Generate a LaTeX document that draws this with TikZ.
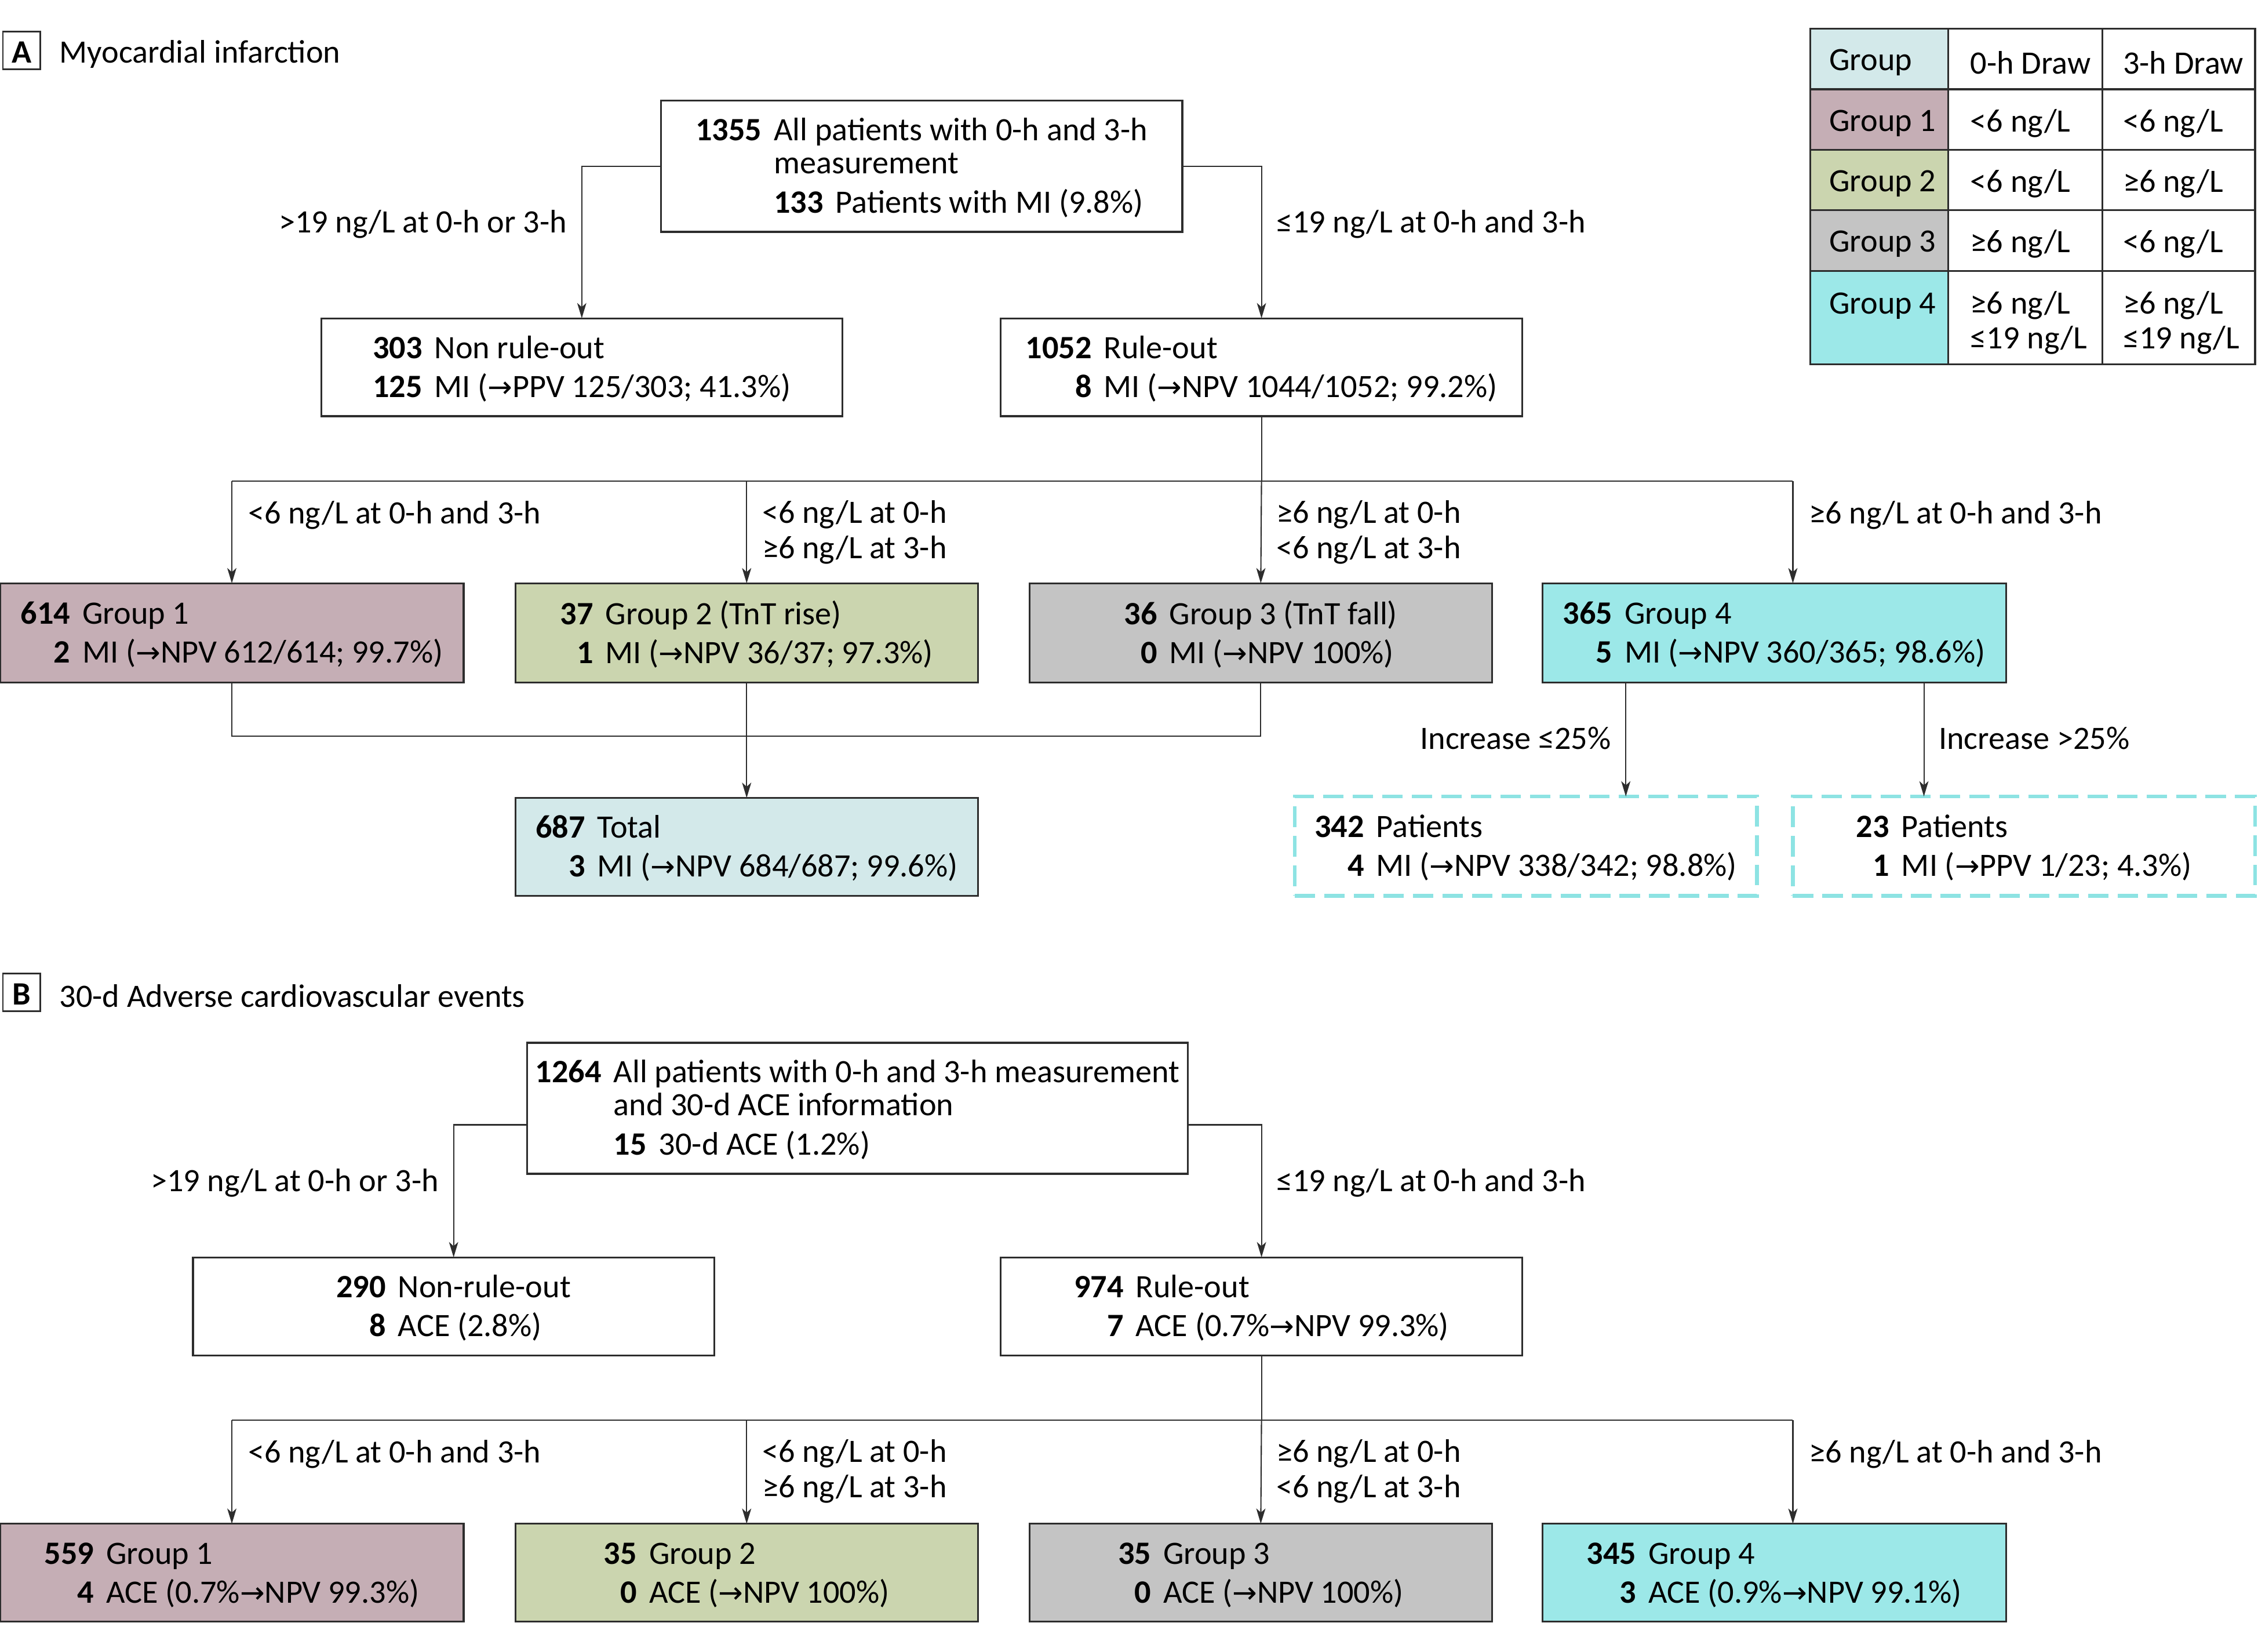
\documentclass[tikz,border=0pt]{standalone}
\usepackage{fontspec}
\setmainfont{Carlito}
\newfontfamily\symf{DejaVu Sans}
\usetikzlibrary{arrows.meta}
\newdimen\U \U=0.024847cm
\newcommand\myarr{{\symf\fontsize{14.5}{14.5}\selectfont →}}
\newcommand\bodyf{\fontsize{16}{16.2}\selectfont}
\newcommand\tb[1]{\raisebox{-2pt}[\height][\depth]{\begin{tabular}{@{}r@{\hspace{6pt}}l@{}}#1\end{tabular}}}
\definecolor{gone}{RGB}{197,174,181}
\definecolor{gtwo}{RGB}{203,213,175}
\definecolor{gthree}{RGB}{196,196,196}
\definecolor{gfour}{RGB}{156,232,232}
\definecolor{ltot}{RGB}{211,233,234}
\definecolor{dcy}{RGB}{141,227,227}
\definecolor{bord}{RGB}{45,45,45}
\tikzset{
  box/.style={draw=bord, line width=0.9pt, inner sep=0pt, outer sep=0pt, font=\bodyf, align=center},
  dbox/.style={draw=dcy, line width=1.8pt, dash pattern=on 10pt off 4.5pt, inner sep=0pt, outer sep=0pt, font=\bodyf},
  conn/.style={draw=bord, line width=0.6pt},
  arr/.style={conn, -{Stealth[length=7.5pt,width=4.5pt,inset=2pt]}},
  lbl/.style={inner sep=0pt, font=\bodyf, align=left, yshift=-1.8pt},
  cell/.style={draw=bord, line width=0.9pt, inner sep=0pt, outer sep=0pt},
  plab/.style={draw=bord, line width=0.8pt, minimum width=26*\U, minimum height=26*\U, inner sep=0pt, font=\bodyf\bfseries},
}
\begin{document}
\begin{tikzpicture}[x=0.024847cm, y=-0.024847cm]
\useasboundingbox (0,0) rectangle (1568,1147);
% ---------------- Panel A ----------------
\node[plab] (labA) at (15,35) {\raisebox{-1pt}[\height][\depth]{A}};
\node[lbl, anchor=west] (titA) at (41,35) {Myocardial infarction};

\node[box, minimum width=362*\U, minimum height=91*\U] (topA) at (640,115.5)
  {\tb{\textbf{1355} & All patients with 0-h and 3-h\\ & measurement\\[2.8pt] & \textbf{133}\hspace{6pt}Patients with MI (9.8\%)}};
\node[box, minimum width=362*\U, minimum height=68*\U] (nroA) at (404,255)
  {\tb{\textbf{303} & Non rule-out\\[2.5pt] \textbf{125} & MI (\myarr PPV 125/303; 41.3\%)}};
\node[box, minimum width=362*\U, minimum height=68*\U] (roA) at (876,255)
  {\tb{\textbf{1052} & Rule-out\\[2.5pt] \textbf{8} & MI (\myarr NPV 1044/1052; 99.2\%)}};

\node[box, fill=gone, minimum width=322*\U, minimum height=69*\U] (g1A) at (161,439.5)
  {\tb{\textbf{614} & Group 1\\[2.5pt] \textbf{2} & MI (\myarr NPV 612/614; 99.7\%)}};
\node[box, fill=gtwo, minimum width=321*\U, minimum height=69*\U] (g2A) at (518.5,439.5)
  {\tb{\textbf{37} & Group 2 (TnT rise)\\[2.5pt] \textbf{1} & MI (\myarr NPV 36/37; 97.3\%)}};
\node[box, fill=gthree, minimum width=321*\U, minimum height=69*\U] (g3A) at (875.5,439.5)
  {\tb{\textbf{36} & Group 3 (TnT fall)\\[2.5pt] \textbf{0} & MI (\myarr NPV 100\%)}};
\node[box, fill=gfour, minimum width=322*\U, minimum height=69*\U] (g4A) at (1232,439.5)
  {\tb{\textbf{365} & Group 4\\[2.5pt] \textbf{5} & MI (\myarr NPV 360/365; 98.6\%)}};

\node[box, fill=ltot, minimum width=321*\U, minimum height=68*\U] (totA) at (518.5,588)
  {\tb{\textbf{687} & Total\\[2.5pt] \textbf{3} & MI (\myarr NPV 684/687; 99.6\%)}};
\node[dbox, minimum width=321*\U, minimum height=69*\U] (p1A) at (1059.5,587.5)
  {\tb{\textbf{342} & Patients\\[2.5pt] \textbf{4} & MI (\myarr NPV 338/342; 98.8\%)}};
\node[dbox, minimum width=321*\U, minimum height=69*\U] (p2A) at (1405.5,587.5)
  {\tb{\textbf{23} & Patients\\[2.5pt] \textbf{1} & MI (\myarr PPV 1/23; 4.3\%)}};

\draw[arr] (topA.west) -| (nroA.north);
\draw[arr] (topA.east) -| (roA.north);
\node[lbl, anchor=east] (lA1) at (394,153) {>19 ng/L at 0-h or 3-h};
\node[lbl, anchor=west] (lA2) at (886,153) {≤19 ng/L at 0-h and 3-h};

\coordinate (bA) at (876,334);
\coordinate (bA1) at (161,334);
\coordinate (bA2) at (518.5,334);
\coordinate (bA4) at (1245,334);
\draw[conn] (roA.south) -- (bA);
\draw[conn] (bA1) -- (bA4);
\draw[arr] (bA1) -- (g1A.north);
\draw[arr] (bA2) -- (g2A.north);
\draw[arr] (bA) -- (g3A.north);
\draw[arr] (bA4) -- (bA4 |- g4A.north);
\node[lbl, anchor=west] (lA3) at (172,355) {<6 ng/L at 0-h and 3-h};
\node[lbl, anchor=west] (lA4) at (529,367) {<6 ng/L at 0-h\\[1pt]≥6 ng/L at 3-h};
\node[lbl, anchor=west] (lA5) at (886,367) {≥6 ng/L at 0-h\\[1pt]<6 ng/L at 3-h};
\node[lbl, anchor=west] (lA6) at (1256,355) {≥6 ng/L at 0-h and 3-h};

\coordinate (mA1) at (161,511);
\coordinate (mA3) at (875.5,511);
\draw[conn] (g1A.south) -- (mA1) -- (mA3) -- (g3A.south);
\draw[arr] (g2A.south) -- (totA.north);

\coordinate (sA1) at (1129,474);
\coordinate (sA2) at (1336,474);
\draw[arr] (sA1) -- (sA1 |- p1A.north);
\draw[arr] (sA2) -- (sA2 |- p2A.north);
\node[lbl, anchor=east] (lA7) at (1119,510) {Increase ≤25\%};
\node[lbl, anchor=west] (lA8) at (1346,510) {Increase >25\%};

% ---------------- Table ----------------
\node[cell, fill=ltot, minimum width=96*\U, minimum height=42*\U] (t11) at (1305,41) {};
\node[cell, minimum width=107*\U, minimum height=42*\U] (t12) at (1406.5,41) {};
\node[cell, minimum width=106*\U, minimum height=42*\U] (t13) at (1513,41) {};
\node[cell, fill=gone, minimum width=96*\U, minimum height=42*\U] (t21) at (1305,83) {};
\node[cell, minimum width=107*\U, minimum height=42*\U] (t22) at (1406.5,83) {};
\node[cell, minimum width=106*\U, minimum height=42*\U] (t23) at (1513,83) {};
\node[cell, fill=gtwo, minimum width=96*\U, minimum height=42*\U] (t31) at (1305,125) {};
\node[cell, minimum width=107*\U, minimum height=42*\U] (t32) at (1406.5,125) {};
\node[cell, minimum width=106*\U, minimum height=42*\U] (t33) at (1513,125) {};
\node[cell, fill=gthree, minimum width=96*\U, minimum height=42*\U] (t41) at (1305,167) {};
\node[cell, minimum width=107*\U, minimum height=42*\U] (t42) at (1406.5,167) {};
\node[cell, minimum width=106*\U, minimum height=42*\U] (t43) at (1513,167) {};
\node[cell, fill=gfour, minimum width=96*\U, minimum height=65*\U] (t51) at (1305,220.5) {};
\node[cell, minimum width=107*\U, minimum height=65*\U] (t52) at (1406.5,220.5) {};
\node[cell, minimum width=106*\U, minimum height=65*\U] (t53) at (1513,220.5) {};

\node[lbl, anchor=west] (x11) at (1270,41) {Group};
\node[lbl, anchor=west] (x12) at (1368,41) {0-h Draw};
\node[lbl, anchor=west] (x13) at (1474,41) {3-h Draw};
\node[lbl, anchor=west] (x21) at (1270,83) {Group 1};
\node[lbl, anchor=west] (x22) at (1368,83) {<6 ng/L};
\node[lbl, anchor=west] (x23) at (1474,83) {<6 ng/L};
\node[lbl, anchor=west] (x31) at (1270,125) {Group 2};
\node[lbl, anchor=west] (x32) at (1368,125) {<6 ng/L};
\node[lbl, anchor=west] (x33) at (1474,125) {≥6 ng/L};
\node[lbl, anchor=west] (x41) at (1270,167) {Group 3};
\node[lbl, anchor=west] (x42) at (1368,167) {≥6 ng/L};
\node[lbl, anchor=west] (x43) at (1474,167) {<6 ng/L};
\node[lbl, anchor=west] (x51) at (1270,210) {Group 4};
\node[lbl, anchor=west] (x52) at (1368,221.5) {≥6 ng/L\\[1pt]≤19 ng/L};
\node[lbl, anchor=west] (x53) at (1474,221.5) {≥6 ng/L\\[1pt]≤19 ng/L};

% ---------------- Panel B ----------------
\node[plab] (labB) at (15,689) {\raisebox{-1pt}[\height][\depth]{B}};
\node[lbl, anchor=west] (titB) at (41,689) {30-d Adverse cardiovascular events};

\node[box, minimum width=459*\U, minimum height=91*\U] (topB) at (595.5,769.5)
  {\tb{\textbf{1264} & All patients with 0-h and 3-h measurement\\ & and 30-d ACE information\\[2.8pt] & \textbf{15}\hspace{6pt}30-d ACE (1.2\%)}};
\node[box, minimum width=362*\U, minimum height=68*\U] (nroB) at (315,907)
  {\tb{\textbf{290} & Non-rule-out\\[2.5pt] \textbf{8} & ACE (2.8\%)}};
\node[box, minimum width=362*\U, minimum height=68*\U] (roB) at (876,907)
  {\tb{\textbf{974} & Rule-out\\[2.5pt] \textbf{7} & ACE (0.7\%\myarr NPV 99.3\%)}};

\node[box, fill=gone, minimum width=322*\U, minimum height=68*\U] (g1B) at (161,1092)
  {\tb{\textbf{559} & Group 1\\[2.5pt] \textbf{4} & ACE (0.7\%\myarr NPV 99.3\%)}};
\node[box, fill=gtwo, minimum width=321*\U, minimum height=68*\U] (g2B) at (518.5,1092)
  {\tb{\textbf{35} & Group 2\\[2.5pt] \textbf{0} & ACE (\myarr NPV 100\%)}};
\node[box, fill=gthree, minimum width=321*\U, minimum height=68*\U] (g3B) at (875.5,1092)
  {\tb{\textbf{35} & Group 3\\[2.5pt] \textbf{0} & ACE (\myarr NPV 100\%)}};
\node[box, fill=gfour, minimum width=322*\U, minimum height=68*\U] (g4B) at (1232,1092)
  {\tb{\textbf{345} & Group 4\\[2.5pt] \textbf{3} & ACE (0.9\%\myarr NPV 99.1\%)}};

\coordinate (tBl) at (366,781);
\coordinate (tBr) at (825,781);
\draw[arr] (tBl) -| (nroB.north);
\draw[arr] (tBr) -| (roB.north);
\node[lbl, anchor=east] (lB1) at (305,819) {>19 ng/L at 0-h or 3-h};
\node[lbl, anchor=west] (lB2) at (886,819) {≤19 ng/L at 0-h and 3-h};

\coordinate (bB) at (876,986);
\coordinate (bB1) at (161,986);
\coordinate (bB2) at (518.5,986);
\coordinate (bB4) at (1245,986);
\draw[conn] (roB.south) -- (bB);
\draw[conn] (bB1) -- (bB4);
\draw[arr] (bB1) -- (g1B.north);
\draw[arr] (bB2) -- (g2B.north);
\draw[arr] (bB) -- (g3B.north);
\draw[arr] (bB4) -- (bB4 |- g4B.north);
\node[lbl, anchor=west] (lB3) at (172,1007) {<6 ng/L at 0-h and 3-h};
\node[lbl, anchor=west] (lB4) at (529,1019) {<6 ng/L at 0-h\\[1pt]≥6 ng/L at 3-h};
\node[lbl, anchor=west] (lB5) at (886,1019) {≥6 ng/L at 0-h\\[1pt]<6 ng/L at 3-h};
\node[lbl, anchor=west] (lB6) at (1256,1007) {≥6 ng/L at 0-h and 3-h};
\end{tikzpicture}
\end{document}
